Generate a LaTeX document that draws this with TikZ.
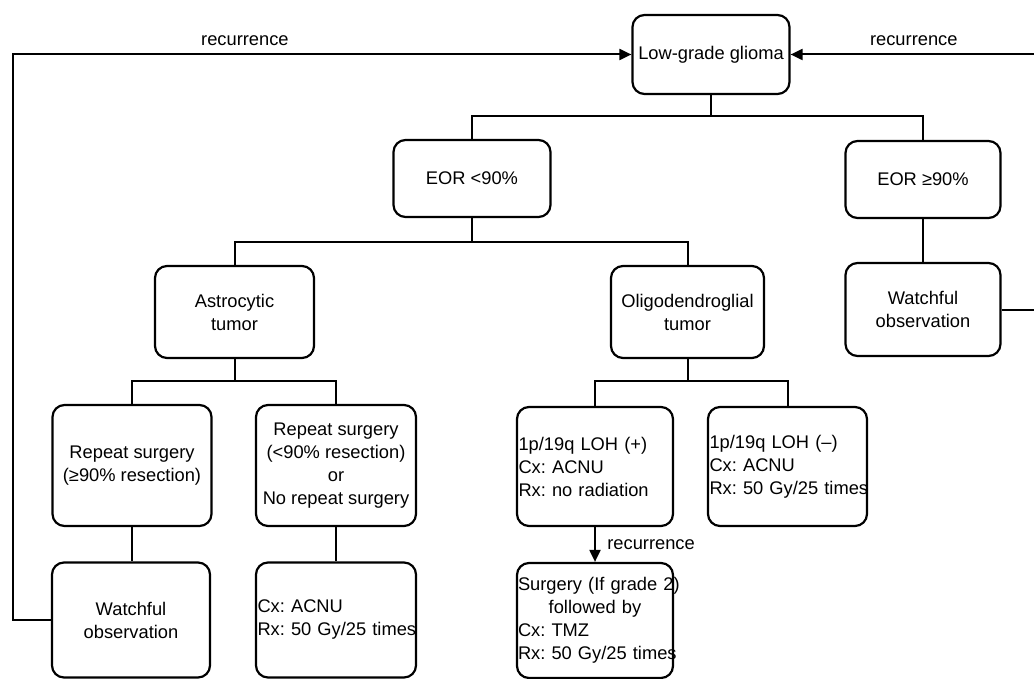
\documentclass[tikz,border=0pt]{standalone}
\usepackage{fontspec}
\setmainfont{Liberation Sans}
\usetikzlibrary{arrows.meta}
\frenchspacing

\begin{document}
\begin{tikzpicture}[x=1pt,y=-1pt,font=\fontsize{18.3}{23}\selectfont,
	box/.style={draw=black,line width=2.2pt,rounded corners=12pt,align=center,inner sep=2pt},
	lbox/.style={box,align=left,inner xsep=1.5pt},
	link/.style={line width=2pt},
	back/.style={link,-{Triangle[length=12pt,width=11pt]}}]
	\path[use as bounding box] (0,0) rectangle (1034,679);
	\clip (0,0) rectangle (1034,679);
	\node[box,minimum width=157pt,minimum height=79pt] (lgg) at (711,54.5) {Low-grade glioma};
	\node[box,minimum width=157pt,minimum height=77pt] (eorlo) at (472,178.5) {EOR <90\%};
	\node[box,minimum width=155pt,minimum height=77pt] (eorhi) at (923,179.5) {EOR ≥90\%};
	\node[box,minimum width=159pt,minimum height=92pt] (astro) at (234.5,312) {Astrocytic\\tumor};
	\node[box,minimum width=153pt,minimum height=92pt] (oligo) at (687.5,312) {Oligodendroglial\\tumor};
	\node[box,minimum width=155pt,minimum height=93pt] (watchR) at (923,309.5) {Watchful\\observation};
	\node[box,minimum width=159pt,minimum height=121pt] (rep1) at (132,465.5) {Repeat surgery\\(≥90\% resection)};
	\node[box,minimum width=160pt,minimum height=121pt] (rep2) at (336,465.5) {Repeat surgery\\(<90\% resection)\\or\\No repeat surgery};
	\node[lbox,text width=153pt,minimum height=119pt] (loh1) at (595,466.5) {1p/19q LOH (+)\\Cx: ACNU\\Rx: no radiation};
	\node[lbox,text width=156pt,minimum height=119pt] (loh2) at (787.5,466.5) {1p/19q LOH (–)\\Cx: ACNU\\\mbox{Rx: 50 Gy/25 times}};
	\node[box,minimum width=158pt,minimum height=115pt] (watchL) at (131,620) {Watchful\\observation};
	\node[lbox,text width=157pt,minimum height=115pt] (cx1) at (336,620) {Cx: ACNU\\\mbox{Rx: 50 Gy/25 times}};
	\node[lbox,inner xsep=1pt,text width=154pt,minimum height=115pt] (surg) at (595,620.5) {\mbox{Surgery (If grade 2)}\\\makebox[\hsize]{followed by}\\Cx: TMZ\\\mbox{Rx: 50 Gy/25 times}};
	\coordinate (lvA) at (0,116);
	\coordinate (lvB) at (0,242);
	\coordinate (lvC) at (0,381);
	\coordinate (lpL) at (13,54.5);
	\coordinate (lpR) at (1037,54.5);
	\draw[link] (lgg.south) -- (lgg.south |- lvA) -| (eorlo.north);
	\draw[link] (lgg.south |- lvA) -| (eorhi.north);
	\draw[link] (eorhi.south) -- (watchR.north);
	\draw[link] (eorlo.south) -- (eorlo.south |- lvB) -| (astro.north);
	\draw[link] (eorlo.south |- lvB) -| (oligo.north);
	\draw[link] (astro.south) -- (astro.south |- lvC) -| (rep1.north);
	\draw[link] (astro.south |- lvC) -| (rep2.north);
	\draw[link] (oligo.south) -- (oligo.south |- lvC) -| (loh1.north);
	\draw[link] (oligo.south |- lvC) -| (loh2.north);
	\draw[link] (rep1.south) -- (rep1.south |- watchL.north);
	\draw[link] (rep2.south) -- (rep2.south |- cx1.north);
	\draw[back] (loh1.south) -- node[right=8pt] {recurrence} (surg.north);
	\draw[back] (watchL.west) -| (lpL) -- node[pos=0.375,above=4pt] {recurrence} (lgg.west);
	\draw[back] (watchR.east) -| (lpR) -- node[above=4pt] {recurrence} (lgg.east);
\end{tikzpicture}
\end{document}
